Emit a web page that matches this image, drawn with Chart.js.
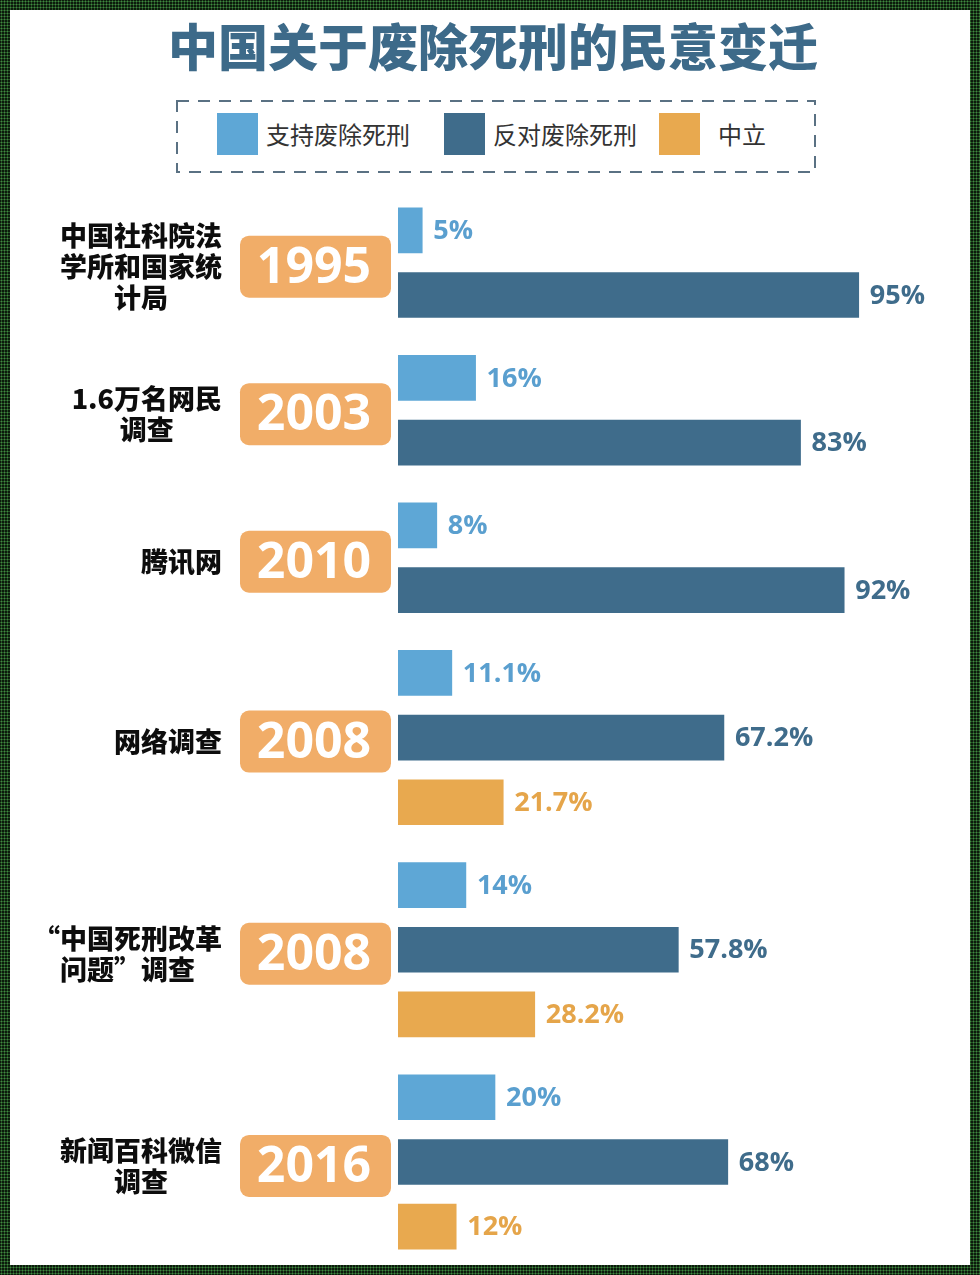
<!DOCTYPE html>
<html>
<head>
<meta charset="utf-8">
<script src="https://cdn.jsdelivr.net/npm/chart.js@4.4.1/dist/chart.umd.min.js"></script>
<style>
  html, body { margin: 0; padding: 0; }
  body {
    width: 980px; height: 1275px; position: relative; overflow: hidden;
    background-color: #0c1a0c;
    background-image: radial-gradient(circle, #3f8a3f 0.9px, transparent 1.1px);
    background-size: 3px 3px;
  }
  #paper { position: absolute; left: 10px; top: 10px; width: 960px; height: 1255px; background: #fff; }
  #title {
    position: absolute; left: 0; top: 12px; width: 986px; text-align: center;
    font-family: "Noto Sans CJK SC", sans-serif; font-weight: 900; font-size: 50px;
    line-height: 64px; color: #3d6a89;
  }
  #legendBox { position: absolute; left: 176px; top: 100px; width: 640px; height: 73px; }
  #legendItems {
    position: absolute; left: 217px; top: 97px; height: 73px;
    display: flex; align-items: center;
    font-family: "Noto Sans CJK SC", sans-serif; font-size: 24px; color: #333;
  }
  .item { display: flex; align-items: center; }
  .sw { width: 41px; height: 42px; margin-right: 8px; }
  #chartWrap { position: absolute; left: 10px; top: 180px; width: 960px; height: 1085px; }
</style>
</head>
<body>
<div id="paper"></div>
<div id="title">中国关于废除死刑的民意变迁</div>
<svg id="legendBox" width="640" height="73">
  <rect x="1" y="1" width="638" height="71" fill="none" stroke="#5a7183" stroke-width="2" stroke-dasharray="12 9"></rect>
</svg>
<div id="legendItems"></div>
<div id="chartWrap"><canvas id="c" width="960" height="1085"></canvas></div>
<script>
// ---- data ----
const years = ['1995', '2003', '2010', '2008', '2008', '2016'];
const sources = ['中国社科院法\n学所和国家统\n计局', '1.6万名网民\n调查', '腾讯网', '网络调查', '“中国死刑改革\n问题”调查', '新闻百科微信\n调查'];
const support = [5, 16, 8, 11.1, 14, 20];
const oppose = [95, 83, 92, 67.2, 57.8, 68];
const neutral = [null, null, null, 21.7, 28.2, 12];
const seriesNames = ['支持废除死刑', '反对废除死刑', '中立'];

// ---- styles ----
const barColors = ['#5ea7d6', '#3f6c8b', '#e8a94f'];
const textColors = ['#5a9fcf', '#3f6c8b', '#e5a54a'];
const badgeColor = '#f1ad68';
const GROUP_GAP = 0.28;

// legend (HTML, built from series)
const li = document.getElementById('legendItems');
const itemGaps = [0, 34, 22];
seriesNames.forEach((n, i) => {
  const d = document.createElement('div'); d.className = 'item';
  d.style.marginLeft = itemGaps[i] + 'px';
  const s = document.createElement('div'); s.className = 'sw'; s.style.background = barColors[i];
  if (i === 2) s.style.marginRight = '18px';
  const t = document.createElement('span'); t.textContent = n;
  d.appendChild(s); d.appendChild(t); li.appendChild(d);
});

// row layout: each group has 2 or 3 rows, groups separated by a small extra gap
const series = [support, oppose, neutral];
const rows = [];
let p = 0;
years.forEach((y, i) => {
  const r = [];
  series.forEach((s, k) => { if (s[i] != null) r.push(p + r.length); });
  rows.push(r);
  p += r.length + GROUP_GAP;
});
const lastPos = rows[rows.length - 1][rows[rows.length - 1].length - 1];

const datasets = series.map((s, k) => ({
  label: seriesNames[k],
  data: s.map((v, i) => v == null ? null : { x: v, y: rows[i][k] }).filter(d => d),
  backgroundColor: barColors[k],
  barThickness: 45,
  grouped: false
}));

const labelPlugin = {
  id: 'labels',
  afterDatasetsDraw(chart) {
    const ctx = chart.ctx;
    const ys = chart.scales.y;
    ctx.save();
    // value labels
    chart.data.datasets.forEach((ds, k) => {
      const meta = chart.getDatasetMeta(k);
      meta.data.forEach((bar, j) => {
        ctx.font = 'bold 27px "Open Sans", sans-serif';
        ctx.fillStyle = textColors[k];
        ctx.textAlign = 'left';
        ctx.textBaseline = 'middle';
        ctx.fillText(ds.data[j].x + '%', bar.x + 11, bar.y + 1);
      });
    });
    // badges and source labels
    years.forEach((yr, i) => {
      const r = rows[i];
      const cy = (ys.getPixelForValue(r[0]) + ys.getPixelForValue(r[r.length - 1])) / 2 + 4;
      ctx.fillStyle = badgeColor;
      ctx.beginPath();
      ctx.roundRect(230, cy - 31, 151, 62, 9);
      ctx.fill();
      ctx.fillStyle = '#fff';
      ctx.font = 'bold 50px "Open Sans", sans-serif';
      ctx.textAlign = 'center';
      ctx.textBaseline = 'middle';
      ctx.fillText(yr, 304, cy + 2);

      const lines = sources[i].split('\n');
      ctx.font = '900 27px "Noto Sans CJK SC", sans-serif';
      ctx.fillStyle = '#0d0d0d';
      const maxW = Math.max(...lines.map(l => ctx.measureText(l).width));
      const cx = 212 - maxW / 2;
      const lh = 31;
      lines.forEach((l, n) => {
        ctx.fillText(l, cx, cy + (n - (lines.length - 1) / 2) * lh);
      });
    });
    ctx.restore();
  }
};

new Chart(document.getElementById('c'), {
  type: 'bar',
  data: { datasets },
  options: {
    indexAxis: 'y',
    responsive: false,
    animation: false,
    layout: { padding: { left: 388, right: 87, top: 18, bottom: 6 } },
    scales: {
      x: { type: 'linear', min: 0, max: 100, display: false },
      y: { type: 'linear', reverse: true, offset: false, min: -0.5, max: lastPos + 0.5, display: false }
    },
    plugins: { legend: { display: false }, tooltip: { enabled: false } }
  },
  plugins: [labelPlugin]
});
</script>
</body>
</html>
